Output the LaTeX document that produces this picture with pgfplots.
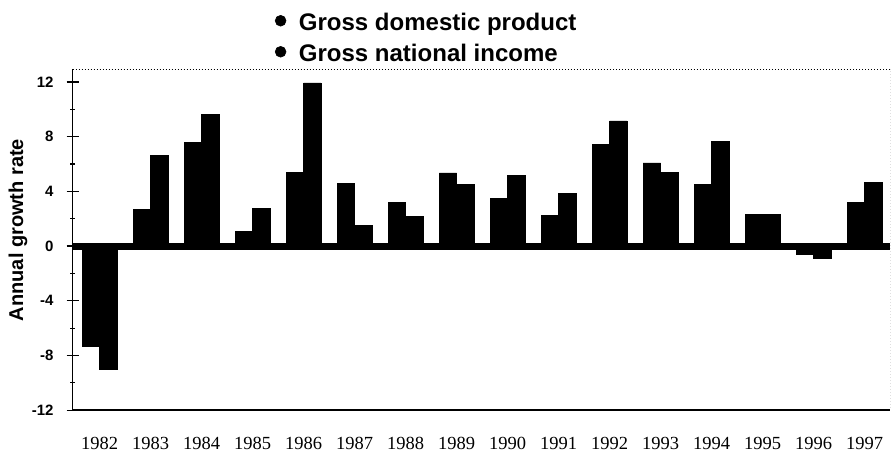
\documentclass[border=0pt]{standalone}
\usepackage{pgfplots}
\pgfplotsset{compat=1.18}
\usepackage{fontspec}
\setmainfont{Liberation Serif}
\setsansfont{Liberation Sans}
\begin{document}
\begin{tikzpicture}
\begin{axis}[
  scale only axis, width=408.5pt, height=170.5pt,
  xmin=-0.53, xmax=15.5, ymin=-12, ymax=12.95,
  axis x line*=bottom, axis y line*=left,
  axis line style={line width=0.8pt, black},
  xtick={0,1,2,3,4,5,6,7,8,9,10,11,12,13,14,15},
  xticklabels={1982,1983,1984,1985,1986,1987,1988,1989,1990,1991,1992,1993,1994,1995,1996,1997},
  major x tick style={draw=none},
  xticklabel style={font=\fontsize{9.25}{11}\selectfont, yshift=-7pt},
  ytick={-12,-8,-4,0,4,8,12},
  minor y tick num=1,
  tick align=center,
  major tick length=6pt, minor tick length=2.5pt,
  tick style={black, line width=0.6pt},
  yticklabel style={font=\sffamily\bfseries\fontsize{7.5}{9}\selectfont, xshift=-3pt},
  /pgf/number format/assume math mode=true,
  ylabel={Annual growth rate},
  ylabel style={font=\sffamily\bfseries\fontsize{10}{12}\selectfont, at={(rel axis cs:-0.0668,0.528)}, anchor=center},
  legend style={draw=none, fill=none, at={(rel axis cs:0.247,1.172)}, anchor=north west,
    font=\sffamily\bfseries\fontsize{12}{14}\selectfont, inner sep=0pt, row sep=1.5pt, column sep=5.3pt,
    nodes={inner sep=1pt, text height=9pt, text depth=3pt}},
  legend cell align=left,
  legend image code/.code={\fill[black] (0pt,2pt) circle (2.7pt);},
]
\addplot[ybar, bar width=0.34, bar shift=-0.17, fill=black, draw=black, line width=0.3pt] coordinates {
(0,-7.3) (1,2.66) (2,7.59) (3,1.07) (4,5.40) (5,4.57) (6,3.2) (7,5.35)
(8,3.51) (9,2.22) (10,7.44) (11,6.09) (12,4.5) (13,2.34) (14,-0.6) (15,3.2)};
\addlegendentry{Gross domestic product}
\addplot[ybar, bar width=0.34, bar shift=0.17, fill=black, draw=black, line width=0.3pt] coordinates {
(0,-9.0) (1,6.65) (2,9.65) (3,2.78) (4,11.93) (5,1.49) (6,2.17) (7,4.5)
(8,5.18) (9,3.88) (10,9.15) (11,5.40) (12,7.63) (13,2.29) (14,-0.9) (15,4.67)};
\addlegendentry{Gross national income}
\draw[line width=3.5pt, black] (axis cs:-0.53,0) -- (axis cs:15.5,0);
\draw[densely dotted, line width=0.5pt] (rel axis cs:0,1) -- (rel axis cs:1,1) -- (rel axis cs:1,0);
\end{axis}
\pgfresetboundingbox
\path[use as bounding box] ([xshift=-36.3pt,yshift=-22pt]current axis.south west) rectangle ([xshift=1.5pt,yshift=34.5pt]current axis.north east);
\end{tikzpicture}
\end{document}
